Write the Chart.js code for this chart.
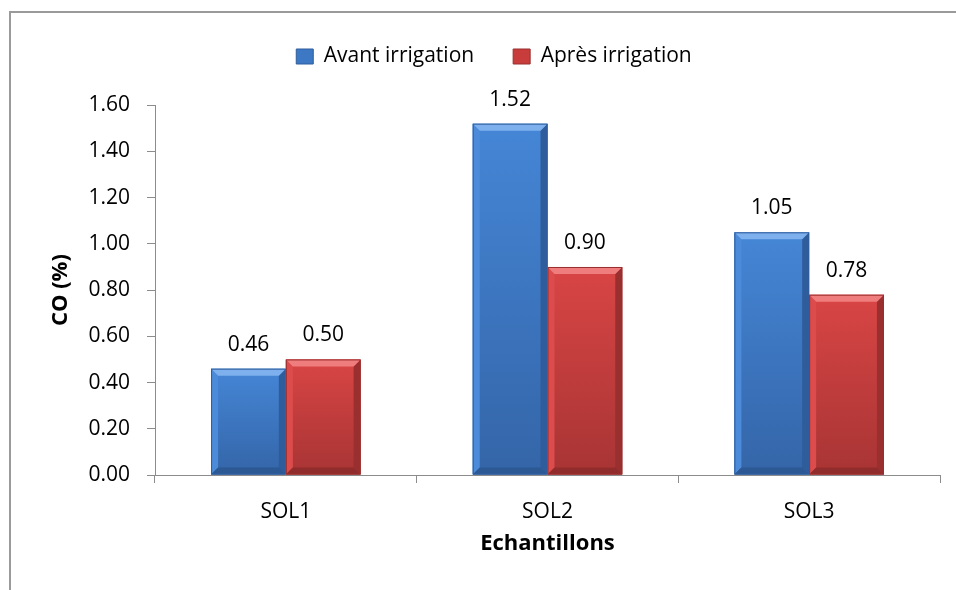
<!DOCTYPE html>
<html>
<head>
<meta charset="utf-8">
<script src="https://cdn.jsdelivr.net/npm/chart.js@4"></script>
<style>
  html, body { margin: 0; padding: 0; background: #fff; }
  #wrap { width: 956px; height: 590px; position: relative; }
</style>
</head>
<body>
<div id="wrap"><canvas id="chart"></canvas></div>
<script>
var categories = ['SOL1', 'SOL2', 'SOL3'];
var avantValues = [0.46, 1.52, 1.05];
var apresValues = [0.50, 0.90, 0.78];
var seriesNames = ['Avant irrigation', 'Après irrigation'];

var fontFamily = '"Open Sans", "Noto Sans", sans-serif';

// face, top, left, right, bottom shades per series
var shades = [
    { face1: '#4586d6', face2: '#3465a8', top: '#7db0ec', left: '#4b8bd9', right: '#2f5d9c', bottom: '#2c5893', border: '#2f5d9c' },
    { face1: '#d94545', face2: '#a83434', top: '#ef7d7d', left: '#dc4c4c', right: '#9a2f2f', bottom: '#912c2c', border: '#9a2f2f' }
];

// grey frame of the chart box (top and left sides visible)
var framePlugin = {
    id: 'frame',
    beforeDraw: function(chart) {
        var ctx = chart.ctx;
        ctx.save();
        ctx.strokeStyle = '#9a9a9a';
        ctx.lineWidth = 2;
        ctx.beginPath();
        ctx.moveTo(10, chart.height);
        ctx.lineTo(10, 12);
        ctx.lineTo(chart.width, 12);
        ctx.stroke();
        ctx.restore();
    }
};

// bevelled look like the office chart
var bevelPlugin = {
    id: 'bevel',
    afterDatasetsDraw: function(chart) {
        var ctx = chart.ctx;
        chart.data.datasets.forEach(function(ds, di) {
            var s = shades[di];
            chart.getDatasetMeta(di).data.forEach(function(bar) {
                var p = bar.getProps(['x', 'y', 'base', 'width'], true);
                var l = p.x - p.width / 2, r = p.x + p.width / 2, t = p.y, b = p.base;
                var bv = Math.min(7, (b - t) / 2);
                ctx.save();
                var g = ctx.createLinearGradient(0, t, 0, b);
                g.addColorStop(0, s.face1);
                g.addColorStop(1, s.face2);
                ctx.fillStyle = g;
                ctx.fillRect(l, t, r - l, b - t);
                function quad(pts, col) {
                    ctx.fillStyle = col;
                    ctx.beginPath();
                    ctx.moveTo(pts[0][0], pts[0][1]);
                    for (var i = 1; i < pts.length; i++) ctx.lineTo(pts[i][0], pts[i][1]);
                    ctx.closePath();
                    ctx.fill();
                }
                quad([[l, t], [l + bv, t + bv], [l + bv, b - bv], [l, b]], s.left);
                quad([[r, t], [r - bv, t + bv], [r - bv, b - bv], [r, b]], s.right);
                quad([[l, b], [l + bv, b - bv], [r - bv, b - bv], [r, b]], s.bottom);
                quad([[l, t], [r, t], [r - bv, t + bv], [l + bv, t + bv]], s.top);
                ctx.strokeStyle = s.border;
                ctx.lineWidth = 1;
                ctx.strokeRect(l + 0.5, t + 0.5, r - l - 1, b - t - 1);
                ctx.restore();
            });
        });
    }
};

var valueLabels = {
    id: 'valueLabels',
    afterDatasetsDraw: function(chart) {
        var ctx = chart.ctx;
        ctx.save();
        ctx.font = '21px ' + fontFamily;
        ctx.fillStyle = '#000';
        ctx.textAlign = 'center';
        ctx.textBaseline = 'alphabetic';
        chart.data.datasets.forEach(function(ds, di) {
            chart.getDatasetMeta(di).data.forEach(function(bar, i) {
                ctx.fillText(ds.data[i].toFixed(2), bar.x, bar.y - 18);
            });
        });
        ctx.restore();
    }
};

var ctx = document.getElementById('chart').getContext('2d');

var myChart = new Chart(ctx, {
    type: 'bar',
    data: {
        labels: categories,
        datasets: [{
            label: seriesNames[0],
            data: avantValues,
            backgroundColor: '#3d78c4',
            borderColor: '#2f5d9c',
            borderWidth: 1
        }, {
            label: seriesNames[1],
            data: apresValues,
            backgroundColor: '#c83c3c',
            borderColor: '#9a2f2f',
            borderWidth: 1
        }]
    },
    options: {
        responsive: true,
        maintainAspectRatio: false,
        animation: false,
        devicePixelRatio: 1,
        layout: {
            padding: { left: 48, right: 16, top: 7, bottom: 0 }
        },
        datasets: {
            bar: {
                categoryPercentage: 2 / 3.5,
                barPercentage: 1
            }
        },
        plugins: {
            legend: {
                position: 'top',
                labels: {
                    boxWidth: 17,
                    boxHeight: 15,
                    padding: 39,
                    color: '#000',
                    font: { family: fontFamily, size: 21 }
                }
            },
            // empty spacer between legend and plot
            subtitle: {
                display: true,
                text: '',
                weight: 500,
                padding: { top: 0, bottom: 27 },
                font: { size: 1 }
            },
            tooltip: { enabled: false }
        },
        scales: {
            x: {
                afterFit: function(scale) { scale.height = 115; },
                grid: {
                    display: true,
                    drawOnChartArea: false,
                    drawTicks: true,
                    tickLength: 8,
                    offset: true,
                    color: '#8c8c8c'
                },
                border: { display: true, color: '#8c8c8c', width: 1 },
                ticks: {
                    color: '#000',
                    padding: 16,
                    font: { family: fontFamily, size: 21 }
                },
                title: {
                    display: true,
                    text: 'Echantillons',
                    color: '#000',
                    padding: { top: 0, bottom: 33 },
                    font: { family: fontFamily, size: 22, weight: 'bold' }
                }
            },
            y: {
                min: 0,
                max: 1.6,
                afterFit: function(scale) { scale.width = 107; },
                grid: {
                    display: true,
                    drawOnChartArea: false,
                    drawTicks: true,
                    tickLength: 8,
                    color: '#8c8c8c'
                },
                border: { display: true, color: '#8c8c8c', width: 1 },
                ticks: {
                    stepSize: 0.2,
                    color: '#000',
                    padding: 17,
                    font: { family: fontFamily, size: 21 },
                    callback: function(v) { return v.toFixed(2); }
                },
                title: {
                    display: true,
                    text: 'CO (%)',
                    color: '#000',
                    padding: { top: 0, bottom: 0 },
                    font: { family: fontFamily, size: 22, weight: 'bold' }
                }
            }
        }
    },
    plugins: [framePlugin, bevelPlugin, valueLabels]
});
</script>
</body>
</html>
